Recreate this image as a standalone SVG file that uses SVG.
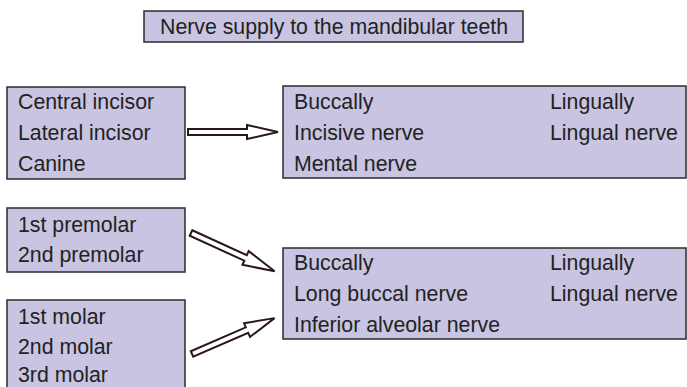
<svg xmlns="http://www.w3.org/2000/svg" width="687" height="387" viewBox="0 0 687 387">
<style>
.box{fill:#c8c4e1;stroke:#2b2b2b;stroke-width:1.5}
.t{font-family:"Liberation Sans",Arial,sans-serif;font-size:21.3px;fill:#222}
.arr{fill:#fff;stroke:#2a1818;stroke-width:2;stroke-linejoin:miter}
</style>
<rect width="687" height="387" fill="#fff"/>
<g id="title">
<rect class="box" x="144" y="11" width="379" height="31"/>
<text class="t" x="160" y="34">Nerve supply to the mandibular teeth</text>
</g>
<g id="incisors">
<rect class="box" x="7" y="87" width="178" height="92"/>
<text class="t" x="18" y="109">Central incisor</text>
<text class="t" x="18" y="140">Lateral incisor</text>
<text class="t" x="18" y="171">Canine</text>
</g>
<g id="anterior-nerves">
<rect class="box" x="283" y="86" width="403" height="92"/>
<text class="t" x="294" y="109">Buccally</text>
<text class="t" x="294" y="140">Incisive nerve</text>
<text class="t" x="294" y="171">Mental nerve</text>
<text class="t" x="550" y="109">Lingually</text>
<text class="t" x="550" y="140">Lingual nerve</text>
</g>
<g id="premolars">
<rect class="box" x="7" y="208" width="178" height="64"/>
<text class="t" x="18" y="232">1st premolar</text>
<text class="t" x="18" y="262">2nd premolar</text>
</g>
<g id="molars">
<rect class="box" x="7" y="300" width="178" height="95"/>
<text class="t" x="18" y="324">1st molar</text>
<text class="t" x="18" y="354">2nd molar</text>
<text class="t" x="18" y="382">3rd molar</text>
</g>
<g id="posterior-nerves">
<rect class="box" x="283" y="248" width="403" height="91"/>
<text class="t" x="294" y="270">Buccally</text>
<text class="t" x="294" y="301">Long buccal nerve</text>
<text class="t" x="294" y="332">Inferior alveolar nerve</text>
<text class="t" x="550" y="270">Lingually</text>
<text class="t" x="550" y="301">Lingual nerve</text>
</g>
<g id="connectors">
<polygon class="arr" points="188,129 247,129 247,125 278,132 247,139 247,135 188,135"/>
<polygon class="arr" transform="translate(191,233) rotate(24.6)" points="0,-3 60,-3 60,-7.5 92,0 60,7.5 60,3 0,3"/>
<polygon class="arr" transform="translate(192,354) rotate(-23.5)" points="0,-3 60,-3 60,-7.5 90,0 60,7.5 60,3 0,3"/>
</g>
</svg>
